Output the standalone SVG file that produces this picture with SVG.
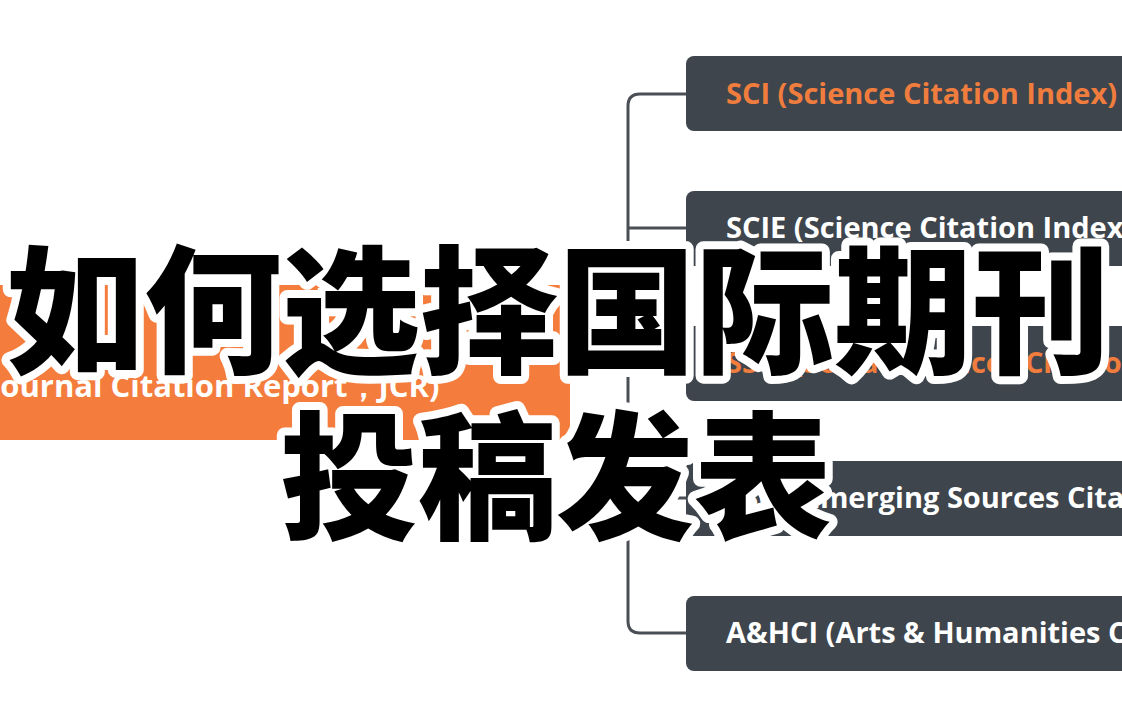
<svg xmlns="http://www.w3.org/2000/svg" width="1122" height="701" viewBox="0 0 1122 701">
<style>
.box{fill:#3e454c}
.t{font-family:"Open Sans","Liberation Sans",sans-serif;font-weight:700;font-size:29px}
.o{fill:#f07d3e}.w{fill:#ffffff}
.c{fill:none;stroke:#4a4f55;stroke-width:3}
.big{font-family:"Noto Sans CJK SC",sans-serif;font-weight:900;font-size:138px;fill:#000;stroke:#fff;stroke-width:16;stroke-linejoin:round;paint-order:stroke}
</style>
<rect width="1122" height="701" fill="#fff"/>
<g id="jcr"><rect x="-10" y="285" width="580" height="155" fill="#f47c3c"/>
<text x="-10" y="397" class="t w" style="font-size:31px">Journal Citation Report，JCR)</text></g>
<g id="connectors">
<path class="c" d="M686 94H640q-12 0-12 12V621q0 12 12 12H686"/>
<path class="c" d="M628 228H686M628 363H686M628 498H686"/>
</g>
<g id="sci"><rect class="box" x="686" y="56" width="460" height="75" rx="8"/><text x="726" y="104" class="t o">SCI (Science Citation Index)</text></g>
<g id="scie"><rect class="box" x="686" y="191" width="460" height="75" rx="8"/><text x="726" y="238" class="t w">SCIE (Science Citation Index Expanded)</text></g>
<g id="ssci"><rect class="box" x="686" y="326" width="460" height="75" rx="8"/><text x="726" y="373" class="t o">SSCI (Social Sciences Citation Index)</text></g>
<g id="esci"><rect class="box" x="686" y="461" width="460" height="75" rx="8"/><text x="726" y="508" class="t w">ESCI (Emerging Sources Citation Index)</text></g>
<g id="ahci"><rect class="box" x="686" y="596" width="460" height="75" rx="8"/><text x="726" y="643" class="t w">A&amp;HCI (Arts &amp; Humanities Citation Index)</text></g>
<g id="title">
<text x="558" y="362" text-anchor="middle" class="big">如何选择国际期刊</text>
<text x="556" y="528" text-anchor="middle" class="big">投稿发表</text>
</g>
</svg>
